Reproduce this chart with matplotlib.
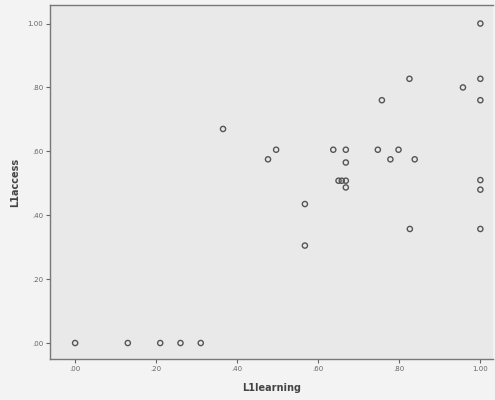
import numpy as np
import matplotlib
matplotlib.use('Agg')
import matplotlib.pyplot as plt
from matplotlib.ticker import FuncFormatter

# L1learning / L1access pairs
l1_learning = [0.00, 0.13, 0.21, 0.26, 0.31,
               0.365,
               0.476, 0.496,
               0.567, 0.567,
               0.637, 0.668, 0.668,
               0.650, 0.658, 0.668, 0.668,
               0.747, 0.757, 0.778, 0.798, 0.825, 0.826, 0.838,
               0.957, 1.00, 1.00, 1.00, 1.00, 1.00, 1.00]
l1_access = [0.00, 0.00, 0.00, 0.00, 0.00,
             0.67,
             0.575, 0.605,
             0.435, 0.305,
             0.605, 0.605, 0.565,
             0.508, 0.508, 0.508, 0.487,
             0.605, 0.76, 0.575, 0.605, 0.827, 0.357, 0.575,
             0.80, 1.00, 0.827, 0.76, 0.51, 0.48, 0.357]

tick_vals = [0.0, 0.2, 0.4, 0.6, 0.8, 1.0]


def spss_fmt(v, pos):
    # SPSS style: drop the leading zero
    s = f'{v:.2f}'
    if s.startswith('0'):
        s = s[1:]
    return s


fig = plt.figure(figsize=(4.95, 4.0), dpi=100)
fig.patch.set_facecolor('#f3f3f3')
ax = fig.add_axes([0.101, 0.1025, 0.894, 0.885])
ax.set_facecolor('#e9e9e9')

ax.scatter(l1_learning, l1_access, s=14, facecolors='none',
           edgecolors='#555555', linewidths=1.0, zorder=3)

ax.set_xlim(-0.062, 1.03)
ax.set_ylim(-0.05, 1.058)
ax.set_xticks(tick_vals)
ax.set_yticks(tick_vals)
ax.xaxis.set_major_formatter(FuncFormatter(spss_fmt))
ax.yaxis.set_major_formatter(FuncFormatter(spss_fmt))
ax.tick_params(labelsize=5, colors='#666666', length=3, width=0.8, pad=2)

for side in ['left', 'bottom', 'top']:
    ax.spines[side].set_color('#777777')
    ax.spines[side].set_linewidth(1.0)
ax.spines['right'].set_visible(False)

ax.set_xlabel('L1learning', fontsize=7, fontweight='bold', color='#444444', labelpad=8)
ax.set_ylabel('L1access', fontsize=7, fontweight='bold', color='#444444', labelpad=5)

fig.savefig('out.png', dpi=100, facecolor=fig.get_facecolor())
